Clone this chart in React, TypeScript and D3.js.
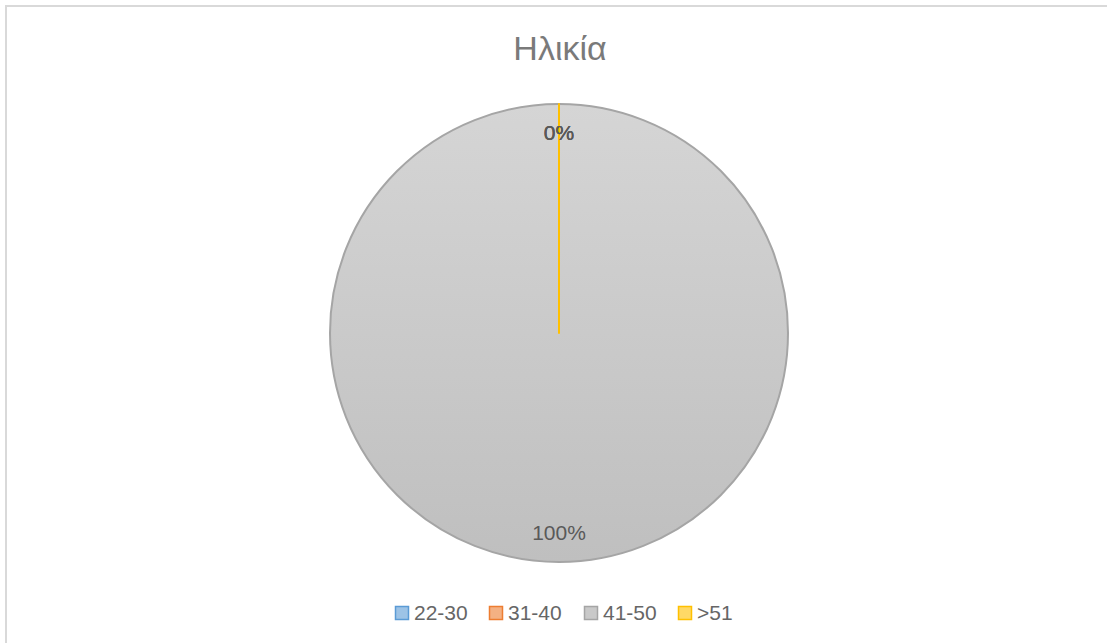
import React from 'react'
import * as d3 from 'd3'

/* whole page size and the pie geometry */
const width = 1107
const height = 643
const center = { x: 559, y: 333 }
const radius = 229

/* chart data */
const categories = ['22-30', '31-40', '41-50', '>51']
const values = [0, 0, 100, 0]
const fills = ['#9dc3e6', '#f4b183', '#c9c9c9', '#ffd966']
const strokes = ['#5b9bd5', '#ed7d31', '#a5a5a5', '#ffc000']
const title = 'Ηλικία'

const legendX = [395, 489, 584, 678]
const font = '"Liberation Sans", Arial, sans-serif'

const App = () => {
    const total = d3.sum(values)
    const pie = d3
        .pie<number>()
        .sort(null)
        .value((d) => d)
    const slices = pie(values)

    const arc = d3.arc<d3.PieArcDatum<number>>().innerRadius(0).outerRadius(radius)
    const labelArc = d3
        .arc<d3.PieArcDatum<number>>()
        .innerRadius(radius - 29)
        .outerRadius(radius - 29)

    return (
        <svg
            width={width}
            height={height}
            style={{ position: 'absolute', left: 0, top: 0 }}
        >
            <defs>
                <linearGradient id="grayFill" x1="0" y1="0" x2="0" y2="1">
                    <stop offset="0%" stopColor="#d5d5d5" />
                    <stop offset="100%" stopColor="#bfbfbf" />
                </linearGradient>
            </defs>
            <rect x={0} y={0} width={width} height={height} fill="#fff" />
            {/* chart area border */}
            <rect
                x={6}
                y={6}
                width={width + 10}
                height={height + 10}
                fill="none"
                stroke="#d9d9d9"
                strokeWidth={2}
            />
            {/* title */}
            <text
                x={560}
                y={60}
                textAnchor="middle"
                fontSize="34px"
                fontFamily={font}
                fill="#7a7a7a"
            >
                {title}
            </text>
            {/* pie: zero slices first, the full one, then the last zero slice on top */}
            <g transform={`translate(${center.x}, ${center.y})`}>
                {slices.map((s, i) => (
                    <path
                        key={i}
                        d={arc(s) || ''}
                        fill={i === 2 ? 'url(#grayFill)' : fills[i]}
                        stroke={strokes[i]}
                        strokeWidth={2}
                        strokeLinejoin="round"
                    />
                ))}
                {slices.map((s, i) => {
                    const [lx, ly] = labelArc.centroid(s)
                    const pct = Math.round((values[i] / total) * 100)
                    return (
                        <text
                            key={i}
                            x={lx}
                            y={ly}
                            dy="0.35em"
                            textAnchor="middle"
                            fontSize="21px"
                            fontFamily={font}
                            fill="#595959"
                        >
                            {`${pct}%`}
                        </text>
                    )
                })}
            </g>
            {/* legend */}
            {categories.map((c, i) => (
                <g key={c} transform={`translate(${legendX[i]}, 606)`}>
                    <rect
                        x={0.5}
                        y={0.5}
                        width={13}
                        height={13}
                        fill={fills[i]}
                        stroke={strokes[i]}
                        strokeWidth={1.5}
                    />
                    <text
                        x={19}
                        y={7}
                        dy="0.35em"
                        fontSize="21px"
                        fontFamily={font}
                        fill="#666666"
                    >
                        {c}
                    </text>
                </g>
            ))}
        </svg>
    )
}

export default App
